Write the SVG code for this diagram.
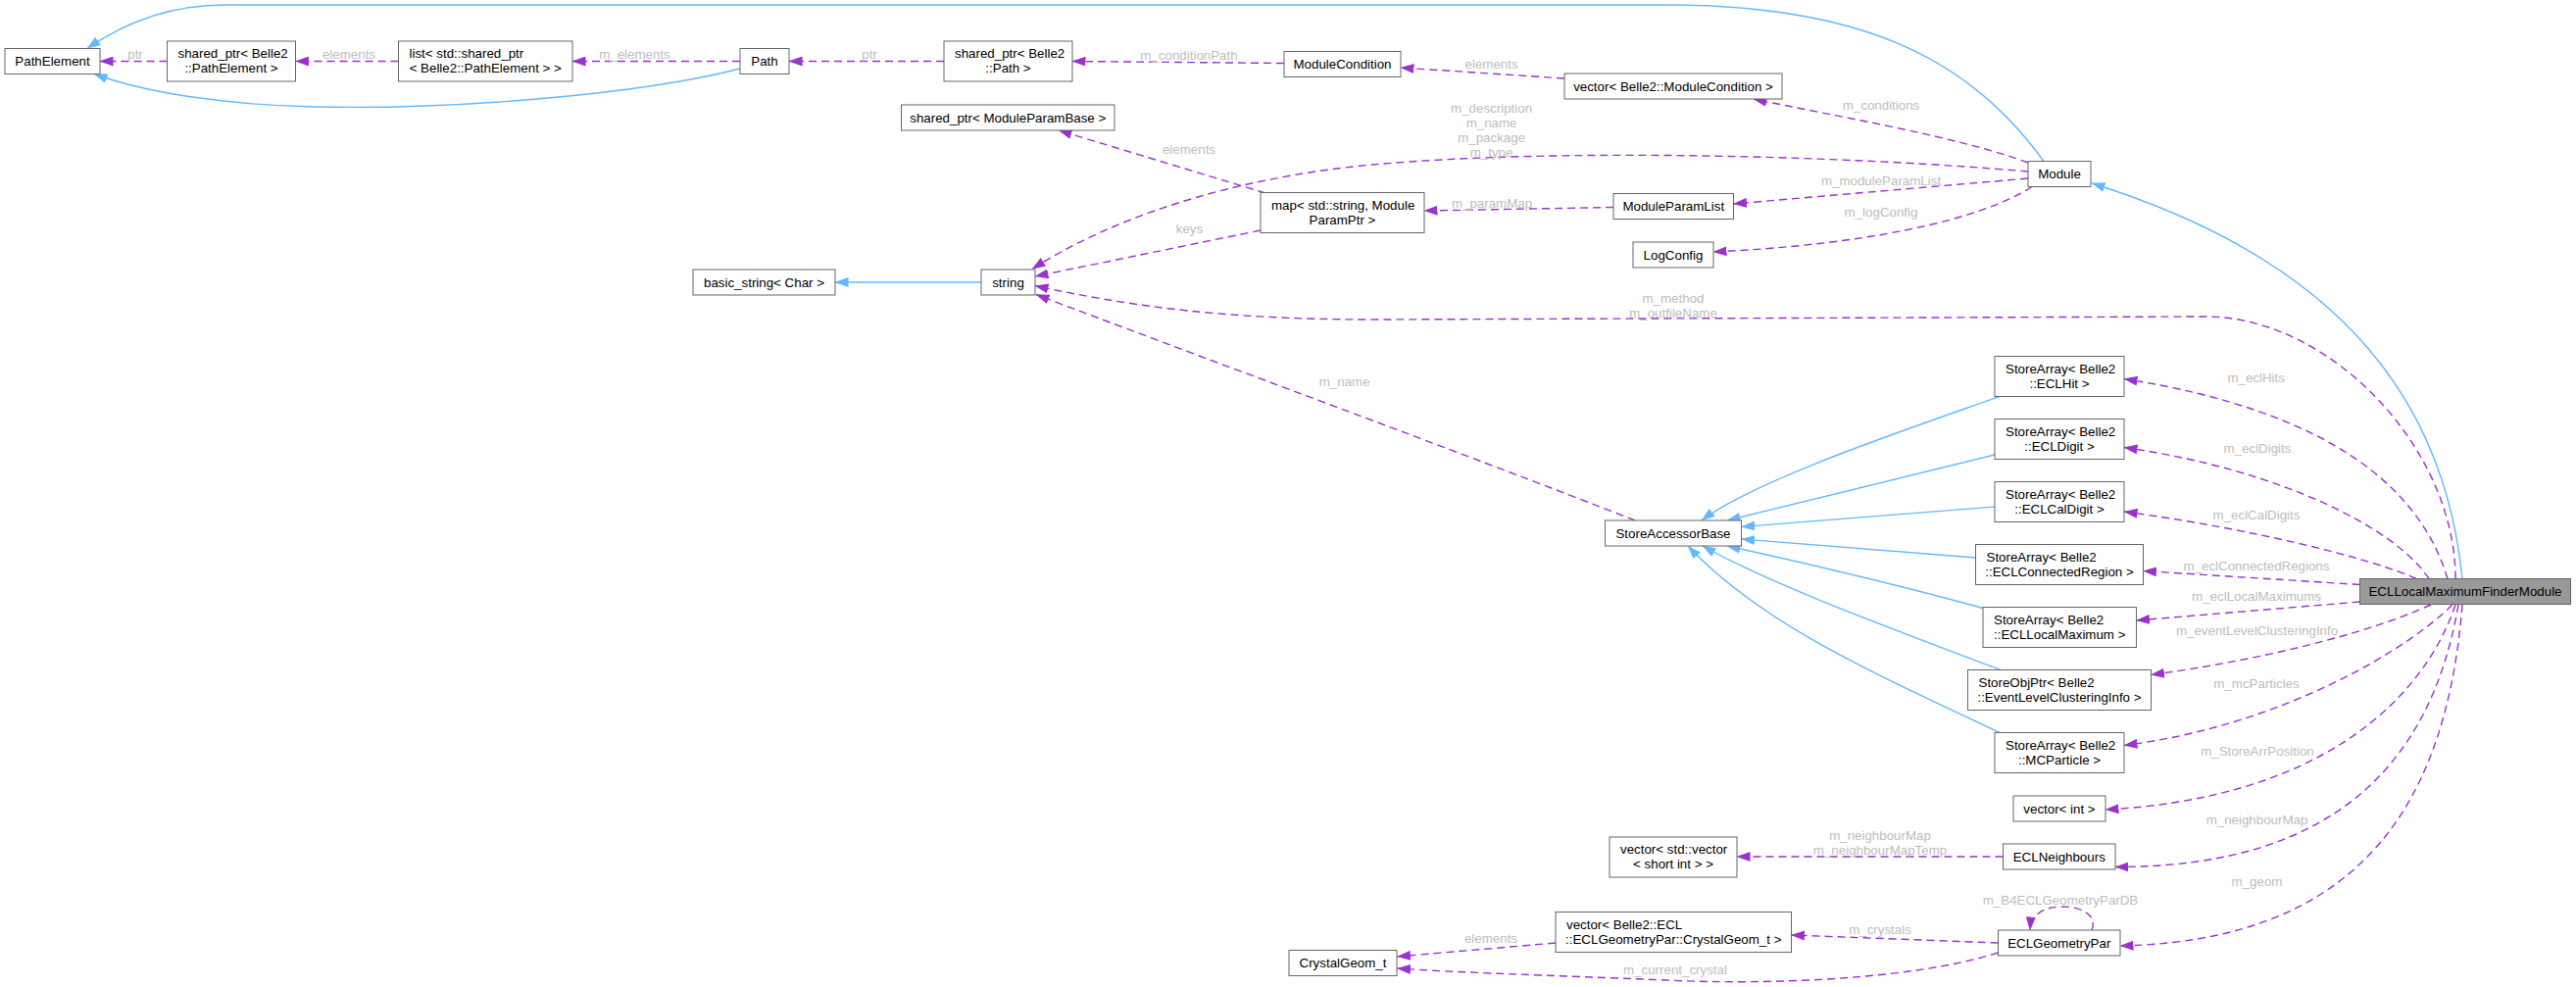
<svg xmlns="http://www.w3.org/2000/svg" width="2628" height="1007" viewBox="0 0 2628 1007">
<style>
.n rect{fill:#ffffff;stroke:#666666;stroke-width:1}
.n.main rect{fill:#999999}
.n text{font-family:"Liberation Sans",Arial,Helvetica,sans-serif;font-size:13.33px;fill:#000000}
.c{text-anchor:middle}
.e path{fill:none;stroke-width:1.4}
.u{stroke:#9a32cd;stroke-dasharray:8,5;marker-end:url(#ap)}
.i{stroke:#63b8ff;marker-end:url(#ab)}
.lb text{font-family:"Liberation Sans",Arial,Helvetica,sans-serif;font-size:13.33px;fill:#bdbdbd;text-anchor:middle}
</style>
<defs>
<marker id="ap" viewBox="0 0 14 10" refX="13.5" refY="5" markerWidth="14" markerHeight="10" orient="auto" markerUnits="userSpaceOnUse"><path d="M0,0 L14,5 L0,10 z" fill="#9a32cd" stroke="none"/></marker>
<marker id="ab" viewBox="0 0 14 10" refX="13.5" refY="5" markerWidth="14" markerHeight="10" orient="auto" markerUnits="userSpaceOnUse"><path d="M0,0 L14,5 L0,10 z" fill="#63b8ff" stroke="none"/></marker>
</defs>
<rect width="2628" height="1007" fill="#ffffff"/>

<g id="edges" class="e">
<path class="i" d="M2085,164.5 C2010,60 1900,5 1700,5 L230,5 C165,5 120,28 89,49.5"/>
<path class="i" d="M755,70 C650,97 460,112 321,109 C230,107 150,95 96,75.5"/>
<path class="i" d="M1001,288 L852,288"/>
<path class="i" d="M2512,590.5 C2495,420 2400,270 2134,187"/>
<path class="i" d="M2040,404.5 C1940,440 1790,490 1736,531"/>
<path class="i" d="M2035,464 C1930,490 1830,515 1762,531"/>
<path class="i" d="M2035,517 L1776.5,537.5"/>
<path class="i" d="M2015.5,569 L1776.5,550"/>
<path class="i" d="M2023,620.5 C1930,595 1830,572 1762,557"/>
<path class="i" d="M2041,683.5 C1940,645 1810,598 1737,557"/>
<path class="i" d="M2040,747.5 C1920,690 1800,640 1722,557"/>

<path class="u" d="M170.5,62.5 L102,62.5"/>
<path class="u" d="M406.5,62.5 L301.5,62.5"/>
<path class="u" d="M755,62.5 L584,62.5"/>
<path class="u" d="M963,62.5 L805,62.5"/>
<path class="u" d="M1310,64.5 L1094,62.5"/>
<path class="u" d="M1596,80 L1429,69"/>
<path class="u" d="M2069,166 C2000,140 1870,118 1789,101"/>
<path class="u" d="M2069,175 C1900,160 1600,150 1400,168 C1250,182 1130,225 1053,274.5"/>
<path class="u" d="M1286,235 L1056,282"/>
<path class="u" d="M1291,197 L1080,133"/>
<path class="u" d="M1646,211.5 L1453,215"/>
<path class="u" d="M2069,182 L1768.5,208"/>
<path class="u" d="M2073,190.5 C2020,225 1900,250 1748,257"/>
<path class="u" d="M1668,531 C1500,465 1200,355 1057,300.5"/>
<path class="u" d="M2505,590.5 C2505,457 2377,323 2250,323 L1400,326 C1250,326 1150,312 1056,291.5"/>
<path class="u" d="M2497,590.5 C2470,500 2380,420 2167,386.5"/>
<path class="u" d="M2478,590.5 C2445,540 2330,480 2167,456.5"/>
<path class="u" d="M2465,590.5 C2420,570 2300,540 2167,522"/>
<path class="u" d="M2407.5,596.5 L2186.5,582.5"/>
<path class="u" d="M2407.5,614 L2179.5,633"/>
<path class="u" d="M2480,617 C2430,640 2330,670 2194.5,688.5"/>
<path class="u" d="M2501.7,617 C2460,660 2330,740 2167,760.5"/>
<path class="u" d="M2505,617 C2470,720 2360,815 2148,826"/>
<path class="u" d="M2508,617 C2480,780 2380,885 2158,884.5"/>
<path class="u" d="M2512,617 C2495,830 2400,960 2163,965"/>
<path class="u" d="M2043.5,874 L1772,874"/>
<path class="u" d="M2134,949 C2140,935 2125,925 2104,925 C2085,925 2072,933 2071,949"/>
<path class="u" d="M2038.5,962 L1827.5,954"/>
<path class="u" d="M1587,962 L1425.5,976"/>
<path class="u" d="M2038.5,972 C1950,1000 1800,1005 1700,1000 C1580,995 1480,992 1425.5,988"/>
</g>

<g id="labels" class="lb">
<text x="138" y="60">ptr</text>
<text x="356" y="60">elements</text>
<text x="647.5" y="60">m_elements</text>
<text x="887" y="60">ptr</text>
<text x="1213" y="60.5">m_conditionPath</text>
<text x="1521.6" y="69.5">elements</text>
<text x="1919" y="111.5">m_conditions</text>
<text x="1521.6" y="114.5">m_description</text>
<text x="1521.6" y="129.5">m_name</text>
<text x="1521.6" y="144.5">m_package</text>
<text x="1521.6" y="159.5">m_type</text>
<text x="1213" y="156.5">elements</text>
<text x="1522" y="211.5">m_paramMap</text>
<text x="1213.5" y="237.5">keys</text>
<text x="1919" y="189">m_moduleParamList</text>
<text x="1919" y="220.5">m_logConfig</text>
<text x="1707" y="308.5">m_method</text>
<text x="1707" y="323.5">m_outfileName</text>
<text x="1371.7" y="394">m_name</text>
<text x="2301.7" y="390">m_eclHits</text>
<text x="2303" y="462">m_eclDigits</text>
<text x="2302" y="530">m_eclCalDigits</text>
<text x="2302" y="582">m_eclConnectedRegions</text>
<text x="2302" y="612.5">m_eclLocalMaximums</text>
<text x="2302.5" y="647.5">m_eventLevelClusteringInfo</text>
<text x="2302" y="702">m_mcParticles</text>
<text x="2303" y="771">m_StoreArrPosition</text>
<text x="2302.5" y="841">m_neighbourMap</text>
<text x="1918" y="856.5">m_neighbourMap</text>
<text x="1918" y="871.5">m_neighbourMapTemp</text>
<text x="2302.5" y="904">m_geom</text>
<text x="2102" y="922.5">m_B4ECLGeometryParDB</text>
<text x="1918" y="952.5">m_crystals</text>
<text x="1521" y="961.5">elements</text>
<text x="1709" y="994">m_current_crystal</text>
</g>

<g id="node_PathElement" class="n"><rect x="5" y="49.5" width="97" height="26"/><text class="c" x="53.5" y="67">PathElement</text></g>
<g id="node_sp_PathElement" class="n"><rect x="170.5" y="42" width="131" height="41"/><text x="181.5" y="59">shared_ptr&lt; Belle2</text><text class="c" x="236" y="74">::PathElement &gt;</text></g>
<g id="node_list_sp" class="n"><rect x="406.5" y="42" width="177.5" height="41"/><text x="417.5" y="59">list&lt; std::shared_ptr</text><text class="c" x="495.25" y="74">&lt; Belle2::PathElement &gt; &gt;</text></g>
<g id="node_Path" class="n"><rect x="755" y="49.5" width="50" height="26"/><text class="c" x="780" y="67">Path</text></g>
<g id="node_sp_Path" class="n"><rect x="963" y="42" width="131" height="41"/><text x="974" y="59">shared_ptr&lt; Belle2</text><text class="c" x="1028.5" y="74">::Path &gt;</text></g>
<g id="node_ModuleCondition" class="n"><rect x="1310" y="52.5" width="119" height="26"/><text class="c" x="1369.5" y="70">ModuleCondition</text></g>
<g id="node_vec_ModuleCondition" class="n"><rect x="1596" y="75" width="222" height="26"/><text class="c" x="1707" y="92.5">vector&lt; Belle2::ModuleCondition &gt;</text></g>
<g id="node_sp_ModuleParamBase" class="n"><rect x="919.5" y="107" width="217.5" height="26"/><text class="c" x="1028.25" y="124.5">shared_ptr&lt; ModuleParamBase &gt;</text></g>
<g id="node_Module" class="n"><rect x="2069" y="164.5" width="64" height="26"/><text class="c" x="2101" y="182">Module</text></g>
<g id="node_map" class="n"><rect x="1286" y="196.5" width="167" height="41"/><text x="1297" y="213.5">map&lt; std::string, Module</text><text class="c" x="1369.5" y="228.5">ParamPtr &gt;</text></g>
<g id="node_ModuleParamList" class="n"><rect x="1646" y="197.5" width="122.5" height="26"/><text class="c" x="1707.25" y="215">ModuleParamList</text></g>
<g id="node_LogConfig" class="n"><rect x="1666" y="247" width="82" height="26"/><text class="c" x="1707" y="264.5">LogConfig</text></g>
<g id="node_basic_string" class="n"><rect x="707" y="275" width="145" height="26"/><text class="c" x="779.5" y="292.5">basic_string&lt; Char &gt;</text></g>
<g id="node_string" class="n"><rect x="1001" y="275" width="55" height="26"/><text class="c" x="1028.5" y="292.5">string</text></g>
<g id="node_StoreAccessorBase" class="n"><rect x="1637.5" y="531" width="139" height="26"/><text class="c" x="1707" y="548.5">StoreAccessorBase</text></g>
<g id="node_SA_ECLHit" class="n"><rect x="2035" y="363.5" width="132" height="41"/><text x="2046" y="380.5">StoreArray&lt; Belle2</text><text class="c" x="2101" y="395.5">::ECLHit &gt;</text></g>
<g id="node_SA_ECLDigit" class="n"><rect x="2035" y="427.5" width="132" height="41"/><text x="2046" y="444.5">StoreArray&lt; Belle2</text><text class="c" x="2101" y="459.5">::ECLDigit &gt;</text></g>
<g id="node_SA_ECLCalDigit" class="n"><rect x="2035" y="491.5" width="132" height="41"/><text x="2046" y="508.5">StoreArray&lt; Belle2</text><text class="c" x="2101" y="523.5">::ECLCalDigit &gt;</text></g>
<g id="node_SA_ECLConnectedRegion" class="n"><rect x="2015.5" y="555.5" width="171" height="41"/><text x="2026.5" y="572.5">StoreArray&lt; Belle2</text><text class="c" x="2101" y="587.5">::ECLConnectedRegion &gt;</text></g>
<g id="node_SA_ECLLocalMaximum" class="n"><rect x="2023" y="619.5" width="156.5" height="41"/><text x="2034" y="636.5">StoreArray&lt; Belle2</text><text class="c" x="2101.25" y="651.5">::ECLLocalMaximum &gt;</text></g>
<g id="node_SOP_EventLevelClusteringInfo" class="n"><rect x="2007.5" y="683.5" width="187" height="41"/><text x="2018.5" y="700.5">StoreObjPtr&lt; Belle2</text><text class="c" x="2101" y="715.5">::EventLevelClusteringInfo &gt;</text></g>
<g id="node_SA_MCParticle" class="n"><rect x="2035" y="747.5" width="132" height="41"/><text x="2046" y="764.5">StoreArray&lt; Belle2</text><text class="c" x="2101" y="779.5">::MCParticle &gt;</text></g>
<g id="node_vector_int" class="n"><rect x="2054" y="812" width="94" height="26"/><text class="c" x="2101" y="829.5">vector&lt; int &gt;</text></g>
<g id="node_ECLNeighbours" class="n"><rect x="2043.5" y="861" width="114.5" height="26"/><text class="c" x="2100.75" y="878.5">ECLNeighbours</text></g>
<g id="node_vec_vec_short" class="n"><rect x="1642" y="854" width="130" height="41"/><text x="1653" y="871">vector&lt; std::vector</text><text class="c" x="1707" y="886">&lt; short int &gt; &gt;</text></g>
<g id="node_ECLGeometryPar" class="n"><rect x="2038.5" y="949" width="124.5" height="26"/><text class="c" x="2100.75" y="966.5">ECLGeometryPar</text></g>
<g id="node_vec_CrystalGeom" class="n"><rect x="1587" y="930.5" width="240.5" height="41"/><text x="1598" y="947.5">vector&lt; Belle2::ECL</text><text class="c" x="1707.25" y="962.5">::ECLGeometryPar::CrystalGeom_t &gt;</text></g>
<g id="node_CrystalGeom_t" class="n"><rect x="1315" y="969.5" width="110" height="26"/><text class="c" x="1370" y="987">CrystalGeom_t</text></g>
<g id="node_ECLLocalMaximumFinderModule" class="n main"><rect x="2407.5" y="590.5" width="215" height="26"/><text class="c" x="2515" y="608">ECLLocalMaximumFinderModule</text></g>
</svg>
